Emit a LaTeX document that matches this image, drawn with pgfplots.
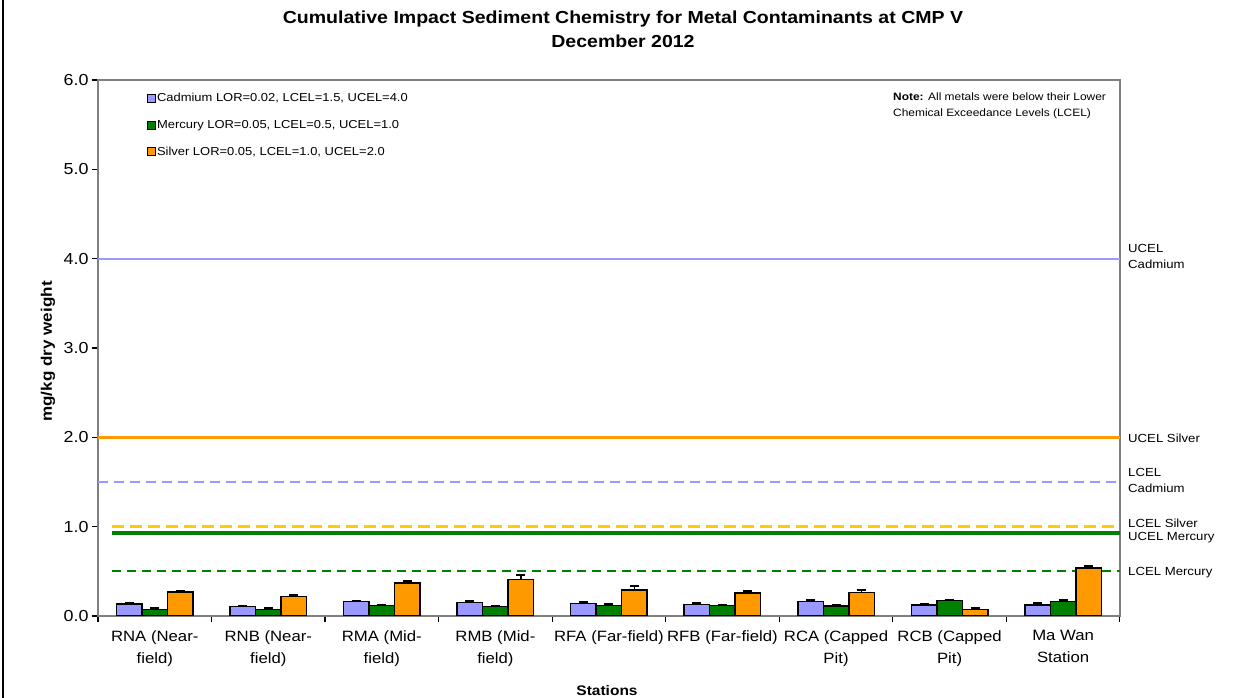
\documentclass[border=0pt]{standalone}
\usepackage{fontspec}
\setmainfont{Liberation Sans}[FakeStretch=1.12]
\usepackage{pgfplots}
\usepackage{pgfplotstable}
\pgfplotsset{compat=1.18}
\definecolor{cdc}{HTML}{9999FF}
\definecolor{hgc}{HTML}{008000}
\definecolor{agc}{HTML}{FF9900}
\definecolor{ylw}{HTML}{FFCC00}
\definecolor{axgray}{HTML}{808080}

\pgfplotstableread{
x cd cde hg hge ag age
0 0.135 0.010 0.075 0.010 0.270 0.015
1 0.105 0.012 0.075 0.010 0.220 0.020
2 0.160 0.013 0.115 0.005 0.370 0.020
3 0.150 0.013 0.105 0.012 0.410 0.045
4 0.140 0.020 0.120 0.013 0.290 0.050
5 0.130 0.010 0.120 0.005 0.260 0.025
6 0.165 0.013 0.110 0.010 0.265 0.030
7 0.125 0.010 0.175 0.005 0.075 0.010
8 0.125 0.020 0.165 0.013 0.540 0.025
}\data

\pgfplotsset{
  base/.style={scale only axis, width=1022bp, height=536bp,
    xmin=-0.5, xmax=8.5, ymin=0, ymax=6},
}

\begin{document}
\begin{tikzpicture}
\begin{axis}[
  base,
  axis line style={axgray, line width=2bp},
  tick align=outside, tick pos=left,
  major tick length=6bp,
  tick style={black, line width=1.2bp},
  ytick={0,1,2,3,4,5,6},
  yticklabel style={font=\fontsize{16}{18}\selectfont, /pgf/number format/.cd, fixed, fixed zerofill, precision=1, assume math mode=true},
  xtick={-0.5,0.5,1.5,2.5,3.5,4.5,5.5,6.5,7.5,8.5},
  xticklabels={},
  extra x ticks={0,1,2,3,4,5,6,7,8},
  extra x tick labels={RNA (Near-\\field), RNB (Near-\\field), RMA (Mid-\\field), RMB (Mid-\\field), RFA (Far-field), RFB (Far-field), RCA (Capped\\Pit), RCB (Capped\\Pit), Ma Wan\\Station},
  extra x tick style={major tick length=0pt, tick style={draw=none},
    xticklabel style={align=center, font=\fontsize{15}{22}\selectfont, anchor=north, yshift=-11bp}},
]
\addplot[cdc, line width=2bp] coordinates {(-0.5,4) (8.5,4)};
\addplot[agc, line width=3bp] coordinates {(-0.5,2) (8.5,2)};
\addplot[cdc, line width=2bp, dash pattern=on 10bp off 6bp] coordinates {(-0.5,1.5) (8.5,1.5)};
\addplot[ylw, line width=3bp, dash pattern=on 12bp off 6bp] coordinates {(-0.377,1.0) (8.5,1.0)};
\addplot[hgc, line width=4bp] coordinates {(-0.377,0.93) (8.5,0.93)};
\addplot[color=hgc, line width=2bp, dash pattern=on 9bp off 6bp] coordinates {(-0.377,0.5) (8.5,0.5)};
\end{axis}
\begin{axis}[
  base, hide axis,
  ybar=0pt, bar width=25.5bp,
  legend style={draw=none, fill=none, at={(rel axis cs:0.048,0.977)}, anchor=north west,
    font=\fontsize{11.6}{14}\selectfont, row sep=15bp, inner sep=0pt,
    nodes={inner sep=1bp}},
  legend cell align=left,
  legend image code/.code={\draw[#1,line width=0.8bp,draw=black] (0bp,-4bp) rectangle (8bp,4bp);},
  every axis plot/.append style={draw=black, line width=1.5bp,
    /pgfplots/error bars/y dir=plus, /pgfplots/error bars/y explicit,
    /pgfplots/error bars/error mark=|,
    /pgfplots/error bars/error bar style={black, line width=1.2bp},
    /pgfplots/error bars/error mark options={black, mark size=4.5bp, line width=2bp}},
]
\addplot[fill=cdc] table[x=x, y=cd, y error=cde] {\data};
\addlegendentry{Cadmium LOR=0.02, LCEL=1.5, UCEL=4.0}
\addplot[fill=hgc] table[x=x, y=hg, y error=hge] {\data};
\addlegendentry{Mercury LOR=0.05, LCEL=0.5, UCEL=1.0}
\addplot[fill=agc] table[x=x, y=ag, y error=age] {\data};
\addlegendentry{Silver LOR=0.05, LCEL=1.0, UCEL=2.0}
\end{axis}
% title and labels
\node[anchor=north, align=center, font=\bfseries\fontsize{17.5}{24}\selectfont] at (525bp,609bp)
  {Cumulative Impact Sediment Chemistry for Metal Contaminants at CMP V\\December 2012};
\node[rotate=90, font=\bfseries\fontsize{15.3}{16}\selectfont] at (-50bp,264.5bp) {mg/kg dry weight};
\node[anchor=north, font=\bfseries\fontsize{13.9}{18}\selectfont] at (509bp,-66bp) {Stations};
\node[anchor=north west, align=left, font=\fontsize{10.7}{16}\selectfont, inner sep=0pt] at (795bp,523bp)
  {\textbf{Note:} All metals were below their Lower\\Chemical Exceedance Levels (LCEL)};
\begin{scope}[every node/.style={anchor=west, align=left, inner sep=0pt, font=\fontsize{11.8}{16}\selectfont}]
\node at (1030bp,360bp) {UCEL\\Cadmium};
\node at (1030bp,178bp) {UCEL Silver};
\node at (1030bp,135.5bp) {LCEL\\Cadmium};
\node at (1030bp,93bp) {LCEL Silver};
\node at (1030bp,78bp) {UCEL Mercury};
\node at (1030bp,43bp) {LCEL Mercury};
\end{scope}
\draw[black, line width=2bp] (-95bp,-82bp) -- (-95bp,616bp);
\pgfresetboundingbox
\path[use as bounding box] (-98bp,-82bp) rectangle (1148bp,616bp);
\end{tikzpicture}
\end{document}
